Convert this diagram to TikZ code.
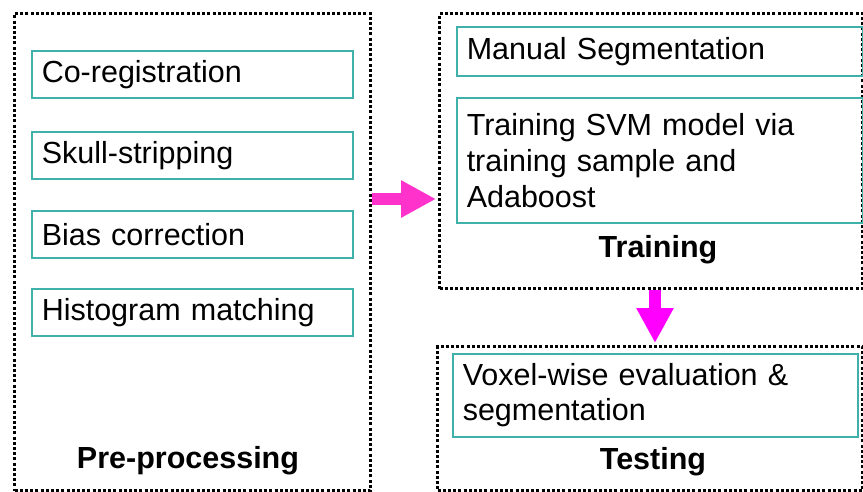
\documentclass[tikz,border=0pt]{standalone}
\usepackage{fontspec}
\setmainfont{Liberation Sans}
\usetikzlibrary{arrows.meta}
\definecolor{teal1}{RGB}{64,176,170}
\definecolor{pinkarr}{RGB}{255,51,204}
\definecolor{magarr}{RGB}{255,0,255}
\tikzset{
  dotbox/.style={draw=black, line width=3.2pt, dash pattern=on 3pt off 2.2pt, anchor=north west, inner sep=0pt},
  stepbox/.style={draw=teal1, line width=1.5pt, anchor=north west, inner xsep=10pt, inner ysep=0pt, align=left,
    font=\fontsize{30.5}{36}\selectfont},
  phase/.style={font=\fontsize{30.5}{36}\selectfont\bfseries},
  bigarrow/.style={line width=12pt, -{Triangle[width=35pt,length=35pt]}, shorten >=2pt}
}
\begin{document}
\begin{tikzpicture}[x=1pt,y=-1pt]
\useasboundingbox (0,0) rectangle (863,491);
% phase boxes
\node[dotbox, minimum width=356pt, minimum height=477pt] (pre) at (13,12) {};
\node[dotbox, minimum width=423pt, minimum height=275pt] (train) at (438,12) {};
\node[dotbox, minimum width=425pt, minimum height=144pt] (test) at (436,345) {};
% pre-processing steps
\node[stepbox, text width=301pt, minimum height=47pt] (s1) at (31,50) {Co-registration};
\node[stepbox, text width=301pt, minimum height=47pt] (s2) at (31,131) {Skull-stripping};
\node[stepbox, text width=301pt, minimum height=47pt] (s3) at (31,210) {Bias correction};
\node[stepbox, text width=301pt, minimum height=47pt] (s4) at (31,288) {Histogram matching};
\node[phase] (prel) at (188,461) {Pre-processing};
% training steps
\node[stepbox, text width=386pt, minimum height=49pt] (t1) at (456,26) {Manual Segmentation};
\node[stepbox, text width=386pt, minimum height=125pt] (t2) at (456,97) {Training SVM model via\\training sample and\\Adaboost};
\node[phase] (trainl) at (658,250) {Training};
% testing step
\node[stepbox, text width=385pt, minimum height=83pt] (e1) at (452,353) {Voxel-wise evaluation \&\\[-1pt]segmentation};
\node[phase] (testl) at (653,462) {Testing};
% arrows
\coordinate (h) at (0,199);
\coordinate (v) at (655,0);
\draw[bigarrow, pinkarr] (pre.east |- h) -- (train.west |- h);
\draw[bigarrow, magarr] (train.south -| v) -- (test.north -| v);
\end{tikzpicture}
\end{document}
